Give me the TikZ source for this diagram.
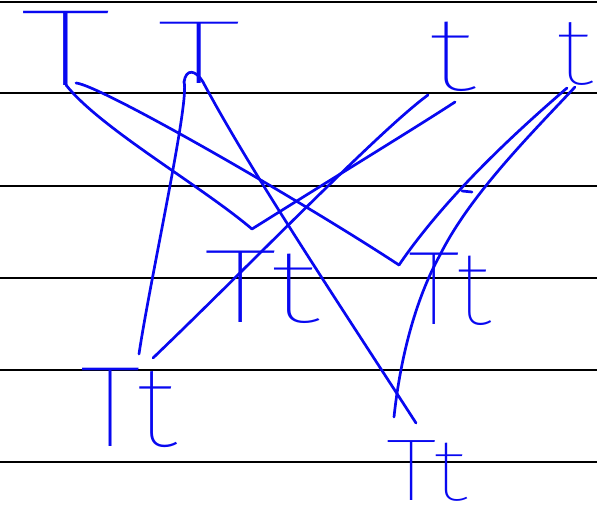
\documentclass[tikz,border=0pt]{standalone}
\usepackage{fontspec}
\IfFontExistsTF{Fira Sans Thin}{\newfontfamily\handfont{Fira Sans Thin}}{%
  \IfFontExistsTF{Fira Sans ExtraLight}{\newfontfamily\handfont{Fira Sans ExtraLight}}{%
    \IfFontExistsTF{Fira Sans Light}{\newfontfamily\handfont{Fira Sans Light}}{%
      \newfontfamily\handfont{Fira Sans}}}}
\definecolor{inkBlue}{RGB}{8,8,240}

\begin{document}
\begin{tikzpicture}[
    x=1pt, y=-1pt,
    rule/.style={draw=black, line width=1.6pt},
    glyph/.style={text=inkBlue, inner sep=0pt, font=\handfont\fontsize{#1}{#1}\selectfont},
    glyph/.default=100,
    pen/.style={draw=inkBlue, line width=2.7pt, line cap=round, line join=round}
]
    \useasboundingbox (0,0) rectangle (597,513);
    % ruled paper
    \foreach \y in {2,93,186,278,370,462}
        \draw[rule] (0,\y) -- (597,\y);

    % parents
    \node[glyph=109] (T1) at (66,48) {\scalebox{1.75}[1]{T}};
    \node[glyph=90] (T2) at (199,53) {\scalebox{1.95}[1]{T}};
    \node[glyph=105] (t3) at (452,57) {\scalebox{1.4}[1]{t}};
    \node[glyph=95] (t4) at (575,54) {\scalebox{1.2}[1]{t}};

    % offspring
    \node[glyph=105] (TtA) at (262,287) {\scalebox{1.45}[1]{Tt}};
    \node[glyph=105] (TtB) at (450,289) {\scalebox{1.03}[1]{Tt}};
    \node[glyph=115] (TtC) at (129,408) {\scalebox{1.1}[1]{Tt}};
    \node[glyph=88] (TtD) at (427,471) {\scalebox{1.2}[1]{Tt}};

    \draw[pen] ([shift={(0,37)}]T1.center) .. controls (100,128) and (200,185) .. ([shift={(-10,-58)}]TtA.center);
    \draw[pen] ([shift={(10,35)}]T1.center) .. controls (100,85) and (300,200) .. ([shift={(-51,-24)}]TtB.center);
    \draw[pen] ([shift={(-15,29)}]T2.center) .. controls (190,100) and (150,280) .. ([shift={(10,-54)}]TtC.center);
    \draw[pen] ([shift={(-15,29)}]T2.center) .. controls (186,68) and (196,70) .. (203,82)
        .. controls (250,170) and (330,290) .. ([shift={(-11,-48)}]TtD.center);
    \draw[pen] ([shift={(-24,38)}]t3.center) .. controls (380,130) and (250,265) .. ([shift={(24,-50)}]TtC.center);
    \draw[pen] ([shift={(3,45)}]t3.center) .. controls (420,125) and (330,180) .. ([shift={(-10,-58)}]TtA.center);
    \draw[pen] ([shift={(-8,34)}]t4.center) .. controls (530,120) and (450,190) .. ([shift={(-51,-24)}]TtB.center);
    \draw[pen] ([shift={(0,33)}]t4.center) .. controls (530,135) and (470,195) .. (440,255)
        .. controls (415,300) and (400,360) .. ([shift={(-33,-54)}]TtD.center);
    \draw[pen] (462,191) -- (472,192);
\end{tikzpicture}
\end{document}
